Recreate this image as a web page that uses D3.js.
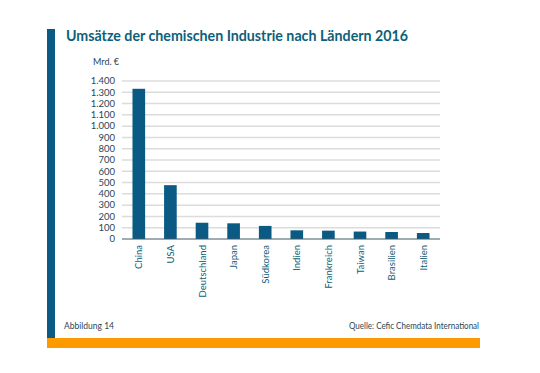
<!DOCTYPE html>
<html>
<head>
<meta charset="utf-8">
<script src="https://cdn.jsdelivr.net/npm/d3@7"></script>
<style>
  body { margin: 0; background: #fff; }
  text { font-family: Lato, "Open Sans", sans-serif; }
</style>
</head>
<body>
<div id="chart"></div>
<script>
// Data
const countries = ["China", "USA", "Deutschland", "Japan", "Südkorea", "Indien", "Frankreich", "Taiwan", "Brasilien", "Italien"];
const sales = [1331, 477, 144, 139, 116, 77, 74, 66, 62, 53];
const yTicks = [0, 100, 200, 300, 400, 500, 600, 700, 800, 900, 1000, 1100, 1200, 1300, 1400];

const W = 540, H = 373;
const blue = "#0b5a84", teal = "#0e6079", orange = "#fd9a00";

const svg = d3.select("#chart").append("svg")
    .attr("width", W)
    .attr("height", H);

// frame: blue stripe on the left, orange bar at the bottom
svg.append("rect").attr("x", 47).attr("y", 29).attr("width", 8).attr("height", 312).attr("fill", blue);
svg.append("rect").attr("x", 47).attr("y", 338).attr("width", 433).attr("height", 10).attr("fill", orange);

svg.append("text")
    .attr("x", 66).attr("y", 41)
    .attr("textLength", 342).attr("lengthAdjust", "spacingAndGlyphs")
    .style("font-size", "15px").style("font-weight", "bold")
    .attr("fill", teal)
    .text("Umsätze der chemischen Industrie nach Ländern 2016");

svg.append("text")
    .attr("x", 93).attr("y", 65)
    .style("font-size", "9px").attr("fill", "#2b4655")
    .text("Mrd. €");

const x = d3.scaleBand()
    .domain(countries)
    .range([123, 439])
    .paddingInner(0.6)
    .paddingOuter(0.3);

const y = d3.scaleLinear()
    .domain([0, 1400])
    .range([239, 81]);

const fmt = d3.formatLocale({ decimal: ",", thousands: ".", grouping: [3], currency: ["", "€"] }).format(",d");

// grid lines
svg.append("g")
    .selectAll("line")
    .data(yTicks.filter(d => d > 0))
    .join("line")
    .attr("x1", 122).attr("x2", 440)
    .attr("y1", d => y(d)).attr("y2", d => y(d))
    .attr("stroke", "#dcdcdc").attr("stroke-width", 1.5);

// y labels
svg.append("g")
    .selectAll("text")
    .data(yTicks)
    .join("text")
    .attr("x", 115).attr("y", d => y(d))
    .attr("dy", "0.35em")
    .attr("text-anchor", "end")
    .style("font-size", "9.5px").attr("fill", "#2b4655")
    .text(d => fmt(d));

// bars
svg.append("g")
    .selectAll("rect")
    .data(countries)
    .join("rect")
    .attr("x", d => x(d))
    .attr("width", x.bandwidth())
    .attr("y", (d, i) => y(sales[i]))
    .attr("height", (d, i) => y(0) - y(sales[i]))
    .attr("fill", blue);

// baseline
svg.append("line")
    .attr("x1", 122).attr("x2", 440)
    .attr("y1", y(0)).attr("y2", y(0))
    .attr("stroke", "#3d5a68").attr("stroke-width", 1);

// x labels, rotated
svg.append("g")
    .selectAll("text")
    .data(countries)
    .join("text")
    .attr("transform", d => `translate(${x(d) + x.bandwidth() / 2 + 3.5},245) rotate(-90)`)
    .attr("text-anchor", "end")
    .style("font-size", "9.5px").attr("fill", teal)
    .text(d => d);

svg.append("text")
    .attr("x", 64).attr("y", 329)
    .style("font-size", "8.5px").attr("fill", "#2b4655")
    .text("Abbildung 14");

svg.append("text")
    .attr("x", 479).attr("y", 329)
    .attr("text-anchor", "end")
    .attr("textLength", 130).attr("lengthAdjust", "spacingAndGlyphs")
    .style("font-size", "8.5px").attr("fill", "#2b4655")
    .text("Quelle: Cefic Chemdata International");
</script>
</body>
</html>
